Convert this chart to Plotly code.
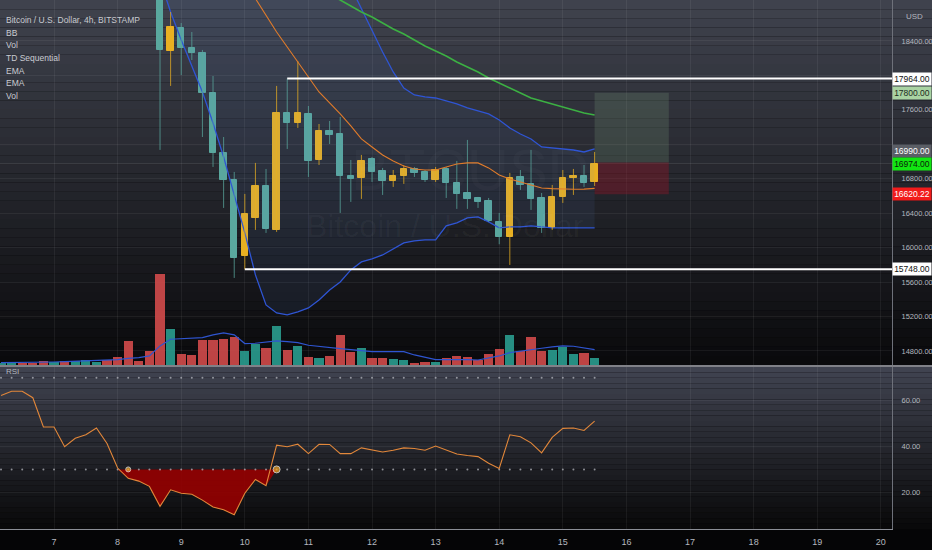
import plotly.graph_objects as go
import pandas as pd

# 4h candles, BTCUSD (Bitstamp), 6 - 15 Nov 2022
times = pd.date_range("2022-11-06 04:00", periods=57, freq="4h")

opens = [21150, 21230, 21280, 21210, 21120, 20900, 20950, 20850, 20920, 20980,
         21050, 20700, 20200, 19600, 19500, 19250, 18284, 18551, 18319, 18261,
         17796, 17100, 16786, 15904, 16345, 16716, 16206, 17564, 17448, 17553,
         17018, 17355, 17320, 16833, 16810, 17030, 16891, 16775, 16833, 16914,
         16879, 16786, 16914, 16751, 16635, 16577, 16542, 16299, 16124, 16821,
         16740, 16577, 16229, 16589, 16810, 16833, 16763]
highs = [21300, 21340, 21320, 21250, 21150, 21000, 21000, 20980, 21050, 21100,
         21080, 20750, 20250, 19700, 19650, 19400, 18737, 18609, 18504, 18296,
         17994, 17285, 16879, 16624, 16984, 16914, 17878, 17964, 18168, 17645,
         17436, 17471, 17518, 17018, 17077, 17053, 16926, 16902, 16960, 16937,
         16902, 16937, 16937, 17007, 17251, 16589, 16577, 16403, 16868, 16902,
         17135, 16635, 16728, 16902, 16914, 16960, 17111]
lows = [21100, 21180, 21150, 21080, 20850, 20820, 20780, 20800, 20880, 20930,
        20600, 20100, 19400, 19350, 19100, 17135, 17878, 18005, 18179, 17285,
        16937, 16461, 15648, 15748, 16206, 16171, 16183, 17146, 17390, 16821,
        16960, 17204, 16403, 16531, 16566, 16763, 16612, 16705, 16740, 16821,
        16763, 16763, 16577, 16450, 16450, 16461, 16299, 16039, 15799, 16670,
        16438, 16171, 16206, 16519, 16612, 16705, 16716]
closes = [21230, 21280, 21210, 21120, 20900, 20950, 20850, 20920, 20980, 21050,
          20700, 20200, 19600, 19500, 19250, 18296, 18563, 18319, 18261, 17796,
          17100, 16786, 15881, 16391, 16716, 16217, 17564, 17448, 17564, 17007,
          17355, 17309, 16833, 16798, 17007, 16879, 16775, 16833, 16914, 16868,
          16786, 16902, 16751, 16624, 16566, 16531, 16310, 16124, 16810, 16728,
          16566, 16229, 16589, 16810, 16833, 16751, 16974]

volume = [140, 140, 100, 100, 240, 200, 220, 240, 280, 200,
          320, 500, 1440, 260, 840, 5440, 2180, 640, 600, 1480,
          1480, 1540, 1680, 820, 1280, 1000, 2300, 880, 1160, 480,
          440, 540, 1820, 800, 1040, 420, 400, 360, 320, 120,
          160, 160, 400, 540, 480, 300, 680, 960, 1820, 840,
          1660, 840, 900, 1080, 660, 720, 420]
volume_ma = [140, 140, 140, 140, 160, 180, 200, 220, 240, 260,
             280, 320, 400, 440, 540, 1140, 1540, 1580, 1600, 1640,
             1800, 1920, 1800, 1280, 1300, 1360, 1440, 1400, 1340, 1180,
             1100, 1040, 980, 920, 840, 800, 800, 800, 800, 600,
             480, 320, 320, 340, 320, 300, 400, 540, 740, 840,
             940, 1000, 1080, 1140, 1120, 1040, 920]

ema_fast = [None] * 22 + [19282, 19085, 18888, 18690, 18504, 18330, 18156, 17970,
                          17808, 17680, 17553, 17413, 17262, 17169, 17076, 17007,
                          16949, 16914, 16902, 16902, 16937, 16972, 16984, 16984,
                          16926, 16844, 16798, 16763, 16728, 16693, 16685, 16680,
                          16678, 16680, 16688]
ema_slow = [None] * 30 + [18992, 18934, 18876, 18806, 18737, 18679, 18609, 18539,
                          18481, 18412, 18342, 18284, 18226, 18156, 18098, 18040,
                          17970, 17912, 17854, 17796, 17738, 17703, 17669, 17634,
                          17599, 17564, 17541]
bb_upper = [None] * 15 + [21500, 21650, 21750, 21800, 21850, 21900, 21950, 21950,
                          21900, 21800, 21700, 21550, 21300, 21000, 20700, 20300,
                          19900, 19500, 19027, 18771, 18528, 18272, 18040, 17854,
                          17773, 17750, 17738, 17703, 17669, 17622, 17587, 17553,
                          17483, 17390, 17320, 17262, 17169, 17157, 17146, 17134,
                          17111, 17146]
bb_lower = [None] * 15 + [19108, 18737, 18412, 18121, 17808, 17448, 17053, 16612,
                          16171, 15683, 15335, 15242, 15219, 15254, 15300, 15393,
                          15509, 15602, 15741, 15834, 15869, 15915, 15985, 16055,
                          16078, 16090, 16090, 16252, 16287, 16345, 16357, 16299,
                          16229, 16241, 16241, 16252, 16241, 16229, 16229, 16229,
                          16229, 16229]

rsi = [62.3, 64.1, 64.1, 61.3, 48.5, 48.5, 39.9, 43.6, 45.1, 48.1,
       41.3, 30.6, 26.1, 24.9, 22.6, 13.9, 21.1, 19.6, 19.2, 16.6,
       13.6, 12.4, 10.2, 19.6, 25.6, 22.9, 40.6, 39.9, 41.0, 36.9,
       41.0, 40.9, 36.9, 36.9, 39.4, 38.4, 37.6, 38.4, 39.4, 39.1,
       38.4, 40.2, 38.4, 36.7, 36.1, 35.6, 32.7, 30.4, 45.1, 44.3,
       41.6, 37.2, 44.0, 47.9, 48.1, 47.0, 51.1]
rsi_signals = [12, 26]
rsi_oversold_span = (11, 27)

price_ticks = [14800, 15200, 15600, 16000, 16400, 16800, 17200, 17600, 18000, 18400]
hidden_ticks = [17200, 18000]  # sit under the price labels
rsi_ticks = [20, 40, 60]
day_ticks = pd.date_range("2022-11-07", "2022-11-20", freq="D")

level_hi, level_lo = 17964, 15748
last_price = 16974
pos_entry, pos_target, pos_stop = 16990, 17800, 16620.22

legend_lines = ["Bitcoin / U.S. Dollar, 4h, BITSTAMP", "BB", "Vol", "TD Sequential", "EMA", "EMA", "Vol"]

UP = "#e9b022"
DOWN = "#5aa89e"
VOL_UP = "#2a9d8f"
VOL_DOWN = "#d24b4b"
TXT = "#b4b7bf"
FONT = "Liberation Sans Narrow, Liberation Sans, Arial"

H = 529.0  # plot area height in px
W = 892.0
XR = 932.0 / W


def py(p):
    return 1 - p / H


def gradient(top, bottom, c_top, c_bot, n=40):
    out = []
    for i in range(n):
        t = i / (n - 1)
        c = [round(a + (b - a) * t) for a, b in zip(c_top, c_bot)]
        out.append(dict(type="rect", xref="paper", yref="paper", x0=0, x1=XR,
                        y1=py(top + (bottom - top) * i / n),
                        y0=py(top + (bottom - top) * (i + 1) / n),
                        fillcolor="rgb(%d,%d,%d)" % tuple(c), line_width=0, layer="below"))
    return out


fig = go.Figure()

# volume (own scale at the bottom of the price pane)
vcol = [VOL_UP if c >= o else VOL_DOWN for o, c in zip(opens, closes)]
fig.add_trace(go.Bar(x=times, y=volume, marker_color=vcol, marker_line_width=0, opacity=0.9,
                     width=12.6e6, xaxis="x2", yaxis="y3"))
fig.add_trace(go.Scatter(x=times, y=volume_ma, mode="lines", line=dict(color="#2f55d0", width=1.2),
                         xaxis="x2", yaxis="y3"))

# bollinger bands
fig.add_trace(go.Scatter(x=times[15:], y=bb_upper[15:], mode="lines", line=dict(color="#2f55d4", width=1.3),
                         xaxis="x2", yaxis="y2"))
fig.add_trace(go.Scatter(x=times[15:], y=bb_lower[15:], mode="lines", line=dict(color="#2f55d4", width=1.3),
                         fill="tonexty", fillcolor="rgba(90,130,210,0.09)", xaxis="x2", yaxis="y2"))

# candles
for up, col in [(True, UP), (False, DOWN)]:
    idx = [i for i in range(len(times)) if (closes[i] >= opens[i]) == up]
    wx, wy = [], []
    for i in idx:
        wx += [times[i], times[i], None]
        wy += [lows[i], highs[i], None]
    fig.add_trace(go.Scatter(x=wx, y=wy, mode="lines", line=dict(color=col, width=1),
                             opacity=0.75, xaxis="x2", yaxis="y2"))
    fig.add_trace(go.Bar(x=[times[i] for i in idx],
                         y=[abs(closes[i] - opens[i]) for i in idx],
                         base=[min(opens[i], closes[i]) for i in idx],
                         width=8.6e6, marker=dict(color=col, line=dict(color=col, width=1)),
                         xaxis="x2", yaxis="y2"))

# EMAs
fig.add_trace(go.Scatter(x=times, y=ema_fast, mode="lines", line=dict(color="#e07b2a", width=1.1),
                         xaxis="x2", yaxis="y2"))
fig.add_trace(go.Scatter(x=times, y=ema_slow, mode="lines", line=dict(color="#3cb043", width=1.6),
                         xaxis="x2", yaxis="y2"))

# RSI pane
a, b = rsi_oversold_span
fig.add_trace(go.Scatter(x=times[a:b], y=[30] * (b - a), mode="lines", line=dict(width=0),
                         xaxis="x", yaxis="y"))
fig.add_trace(go.Scatter(x=times[a:b], y=[min(v, 30) for v in rsi[a:b]], mode="lines", line=dict(width=0),
                         fill="tonexty", fillcolor="rgba(150,0,0,0.9)", xaxis="x", yaxis="y"))
for lvl in (70, 30):
    fig.add_trace(go.Scatter(x=times, y=[lvl] * len(times), mode="markers",
                             marker=dict(size=2, color="rgba(190,192,200,0.7)"), xaxis="x", yaxis="y"))
fig.add_trace(go.Scatter(x=times, y=rsi, mode="lines", line=dict(color="#e2873a", width=1.1),
                         xaxis="x", yaxis="y"))
fig.add_trace(go.Scatter(x=[times[i] for i in rsi_signals], y=[30] * len(rsi_signals), mode="markers",
                         marker=dict(size=[5, 7], color="#f5a623"), xaxis="x", yaxis="y"))

x_range = [pd.Timestamp("2022-11-06 03:37"), pd.Timestamp("2022-11-20 04:13")]
grid = "rgba(255,255,255,0.06)"

shapes = gradient(0, 365, (63, 66, 77), (10, 10, 12)) + gradient(367, 529, (64, 67, 80), (9, 9, 10), 30)
shapes += [
    dict(type="rect", xref="x2", yref="y2", x0=times[-1], x1=times[-1] + pd.Timedelta(hours=28),
         y0=pos_entry, y1=pos_target, fillcolor="rgba(130,170,130,0.2)", line_width=0, layer="between"),
    dict(type="rect", xref="x2", yref="y2", x0=times[-1], x1=times[-1] + pd.Timedelta(hours=28),
         y0=pos_stop, y1=pos_entry, fillcolor="rgba(150,20,40,0.38)", line_width=0, layer="between"),
    dict(type="line", xref="paper", yref="y2", x0=0, x1=1, y0=last_price, y1=last_price,
         line=dict(color="rgba(255,255,255,0.12)", width=1), layer="between"),
    dict(type="line", xref="x2", yref="y2", x0=times[27], x1=x_range[1], y0=level_hi, y1=level_hi,
         line=dict(color="white", width=2)),
    dict(type="line", xref="x2", yref="y2", x0=times[23], x1=x_range[1], y0=level_lo, y1=level_lo,
         line=dict(color="white", width=2)),
    dict(type="line", xref="paper", yref="paper", x0=0, x1=XR, y0=py(366), y1=py(366),
         line=dict(color="rgba(150,152,160,0.85)", width=2)),
]

ann = []
# watermark
ann.append(dict(text="BTCUSD", x=470 / W, y=py(135), xref="paper", yref="paper", showarrow=False,
                font=dict(size=58, color="rgba(255,255,255,0.025)", family=FONT)))
ann.append(dict(text="Bitcoin / U.S. Dollar", x=445 / W, y=py(226), xref="paper", yref="paper",
                showarrow=False, font=dict(size=32, color="rgba(255,255,255,0.04)", family=FONT)))
# indicator legend
for i, t in enumerate(legend_lines):
    ann.append(dict(text=t, x=4 / W, y=py(13 + i * 12.7), xref="paper", yref="paper", xanchor="left",
                    showarrow=False, font=dict(size=8.5, color="#c9cbd1", family=FONT)))
ann.append(dict(text="RSI", x=4 / W, y=py(378), xref="paper", yref="paper", xanchor="left",
                showarrow=False, font=dict(size=8, color=TXT, family=FONT)))
ann.append(dict(text="USD", x=904 / W, y=py(10), xref="paper", yref="paper", xanchor="left",
                showarrow=False, font=dict(size=8, color=TXT, family=FONT)))
# price scale labels
for val, bg, fg, shift in [(level_hi, "#ffffff", "#111111", 0), (pos_target, "#a9d3a3", "#1d2a1d", 0),
                           (pos_entry, "#5b5e66", "#ffffff", 11), (last_price, "#12e612", "#0b1b0b", 0),
                           (pos_stop, "#f21b1b", "#ffffff", 0), (level_lo, "#ffffff", "#111111", 0)]:
    ann.append(dict(text="%.2f" % val, x=1, y=val, xref="paper", yref="y2", xanchor="left", yshift=shift,
                    showarrow=False, bgcolor=bg, width=38, height=12, borderpad=0,
                    font=dict(size=8.5, color=fg, family=FONT)))

fig.update_layout(
    width=932, height=550,
    margin=dict(l=0, r=40, t=0, b=21, autoexpand=False),
    paper_bgcolor="#050506", plot_bgcolor="rgba(0,0,0,0)",
    showlegend=False, barmode="overlay", bargap=0,
    font=dict(family=FONT, size=8.5, color=TXT),
    shapes=shapes, annotations=ann,
    xaxis=dict(domain=[0, 1], anchor="y", type="date", range=x_range, automargin=False,
               tickvals=day_ticks, ticktext=[str(d.day) for d in day_ticks],
               showgrid=True, gridcolor=grid, zeroline=False,
               showline=True, linecolor="#8b8e96", linewidth=1, ticks="", ticklabelstandoff=4,
               tickfont=dict(size=9, color=TXT)),
    xaxis2=dict(domain=[0, 1], anchor="y2", matches="x", type="date", showticklabels=False,
                showgrid=True, gridcolor=grid, zeroline=False, ticks="", automargin=False,
                tickvals=day_ticks),
    yaxis=dict(domain=[0, py(367)], anchor="x", side="right", range=[4, 74.7], automargin=False,
               tickvals=rsi_ticks, ticktext=["%.2f" % v for v in rsi_ticks],
               showgrid=True, gridcolor=grid, zeroline=False, showline=True, linecolor="#6e717a",
               ticks="", ticklabelstandoff=7, tickfont=dict(size=7.5, color=TXT)),
    yaxis2=dict(domain=[py(365), 1], anchor="x2", side="right", range=[14637, 18876], automargin=False,
                tickvals=price_ticks,
                ticktext=["" if v in hidden_ticks else "%.2f" % v for v in price_ticks],
                showgrid=True, gridcolor=grid, zeroline=False, showline=True, linecolor="#6e717a",
                ticks="", ticklabelstandoff=7, tickfont=dict(size=7.5, color=TXT)),
    yaxis3=dict(overlaying="y2", anchor="x2", range=[0, 21800], visible=False),
)

fig.write_html("out.html", config={"displayModeBar": False},
               post_script="document.body.style.margin='0';")
